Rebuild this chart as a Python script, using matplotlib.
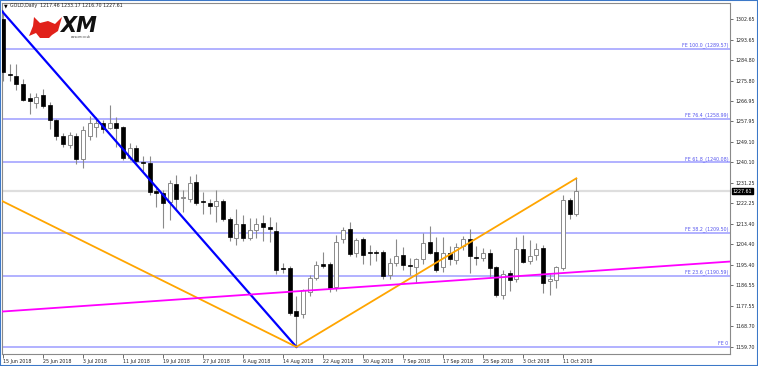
import matplotlib
matplotlib.use("Agg")
import matplotlib.pyplot as plt
import matplotlib.transforms as mtransforms
from matplotlib.patches import Polygon, Rectangle
import numpy as np
import pandas as pd

# GOLD daily candles, 15 Jun 2018 .. 15 Oct 2018
dates = pd.bdate_range("2018-06-15", "2018-10-15")
opens = [1302.5, 1278.5, 1277.8, 1274.3, 1268.0, 1265.9, 1269.5, 1265.0, 1258.6, 1251.6,
         1247.7, 1251.6, 1241.5, 1251.8, 1255.7, 1257.2, 1255.0, 1257.2, 1255.4, 1242.0,
         1246.6, 1240.4, 1240.0, 1227.8, 1226.9, 1223.0, 1230.7, 1224.5, 1224.1, 1231.5,
         1223.5, 1222.6, 1221.1, 1223.4, 1215.3, 1207.0, 1213.3, 1207.3, 1210.6, 1213.6,
         1212.0, 1210.4, 1194.0, 1193.9, 1175.4, 1174.0, 1183.5, 1189.9, 1195.7, 1195.7,
         1186.0, 1206.6, 1210.9, 1200.5, 1206.6, 1201.0, 1200.8, 1201.2, 1191.0, 1196.1,
         1199.8, 1195.4, 1194.7, 1197.9, 1205.6, 1201.2, 1194.7, 1200.8, 1197.6, 1203.7,
         1206.6, 1198.8, 1198.3, 1200.5, 1194.4, 1182.3, 1192.0, 1189.5, 1202.3, 1197.0,
         1199.8, 1202.7, 1188.6, 1189.0, 1194.0, 1223.7, 1217.46]
highs = [1306.5, 1283.0, 1283.0, 1276.3, 1270.3, 1270.3, 1272.0, 1266.6, 1259.0, 1253.0,
         1253.5, 1253.0, 1256.2, 1260.4, 1260.0, 1258.5, 1265.3, 1259.8, 1256.0, 1248.5,
         1247.5, 1243.0, 1243.0, 1229.0, 1228.0, 1232.5, 1234.6, 1228.0, 1234.0, 1235.0,
         1227.0, 1224.0, 1228.0, 1224.0, 1216.5, 1219.7, 1217.0, 1216.0, 1216.0, 1217.0,
         1216.5, 1214.0, 1196.1, 1195.0, 1182.0, 1185.0, 1191.0, 1197.0, 1201.2, 1196.5,
         1208.5, 1212.0, 1214.3, 1207.0, 1207.5, 1204.0, 1202.0, 1202.0, 1198.3, 1206.6,
         1203.4, 1198.3, 1198.5, 1209.2, 1212.4, 1207.8, 1207.8, 1203.5, 1205.0, 1208.0,
         1211.0, 1203.7, 1203.0, 1202.3, 1195.0, 1193.3, 1193.0, 1207.8, 1208.3, 1206.2,
         1205.2, 1204.0, 1191.5, 1195.0, 1226.0, 1224.5, 1233.17]
lows = [1275.5, 1275.5, 1271.7, 1267.0, 1261.2, 1264.0, 1264.0, 1254.6, 1250.0, 1247.0,
        1246.5, 1239.4, 1237.5, 1250.0, 1251.0, 1253.0, 1254.5, 1247.0, 1241.0, 1241.0,
        1239.0, 1236.5, 1226.0, 1220.8, 1211.4, 1215.0, 1219.4, 1218.6, 1223.0, 1221.5,
        1217.6, 1217.5, 1214.0, 1214.5, 1206.0, 1204.1, 1206.0, 1206.5, 1207.0, 1206.0,
        1205.6, 1191.5, 1191.8, 1173.5, 1159.7, 1172.2, 1182.0, 1189.0, 1194.0, 1183.8,
        1184.0, 1205.0, 1199.5, 1199.0, 1196.0, 1195.4, 1197.0, 1189.2, 1189.5, 1195.0,
        1193.2, 1191.0, 1187.7, 1196.0, 1200.0, 1192.5, 1192.5, 1195.5, 1196.0, 1202.0,
        1192.0, 1195.4, 1197.0, 1190.0, 1181.6, 1180.5, 1184.2, 1188.0, 1196.4, 1195.8,
        1197.6, 1183.0, 1182.5, 1185.3, 1193.0, 1215.3, 1216.70]
closes = [1279.5, 1278.0, 1274.3, 1267.3, 1267.0, 1268.8, 1264.7, 1258.6, 1251.6, 1248.0,
          1252.1, 1241.5, 1254.3, 1257.2, 1257.2, 1254.6, 1257.2, 1255.0, 1241.9, 1246.6,
          1240.8, 1240.0, 1227.4, 1226.9, 1222.6, 1231.3, 1224.2, 1225.0, 1231.3, 1222.3,
          1222.7, 1221.3, 1223.4, 1215.3, 1207.5, 1213.3, 1207.0, 1210.6, 1213.3, 1211.9,
          1211.2, 1193.2, 1193.5, 1174.3, 1173.3, 1184.5, 1189.9, 1195.4, 1195.0, 1185.2,
          1205.6, 1210.6, 1200.2, 1206.5, 1199.8, 1200.6, 1200.6, 1190.6, 1196.1, 1199.3,
          1195.4, 1195.0, 1197.9, 1205.1, 1200.8, 1193.2, 1200.5, 1197.9, 1203.4, 1206.6,
          1199.3, 1198.4, 1200.5, 1193.9, 1182.3, 1191.5, 1188.7, 1202.3, 1196.8, 1199.4,
          1202.5, 1187.4, 1189.2, 1194.4, 1223.7, 1217.6, 1227.61]

# Fibonacci expansion levels
fe_levels = [1289.57, 1258.99, 1240.08, 1209.50, 1190.59, 1159.70]
fe_labels = ["FE 100.0_(1289.57)", "FE 76.4_(1258.99)", "FE 61.8_(1240.08)",
             "FE 38.2_(1209.50)", "FE 23.6_(1190.59)", "FE 0"]

# trend lines (bar index, price)
blue_x, blue_y = [-0.15, 44], [1306.0, 1159.7]
orange_x, orange_y = [-0.15, 44, 86], [1223.3, 1159.7, 1233.17]
magenta_x, magenta_y = [-0.15, 109.05], [1175.1, 1196.9]

price_ticks = [1302.65, 1293.65, 1284.80, 1275.80, 1266.95, 1257.95, 1249.10, 1240.10,
               1231.25, 1222.25, 1213.40, 1204.40, 1195.40, 1186.55, 1177.55, 1168.70, 1159.70]
last_price = 1227.61
header = "GOLD,Daily  1217.46 1233.17 1216.70 1227.61"

W, H = 758, 366
fig = plt.figure(figsize=(W / 100, H / 100), dpi=100)
ax = fig.add_axes([2 / W, 12 / H, 728 / W, 351 / H])

o = np.array(opens); h = np.array(highs); l = np.array(lows); c = np.array(closes)
x = np.arange(len(o))
up = c >= o
bot = np.minimum(o, c)
ht = np.maximum(np.abs(c - o), 0.35)

# bid line
ax.axhline(last_price, color="#dedede", lw=1.6, zorder=1)

for lv in fe_levels:
    ax.axhline(lv, color="#9d9dff", lw=1.1, zorder=2)
tr = mtransforms.blended_transform_factory(ax.transAxes, ax.transData)
for lv, lab in zip(fe_levels, fe_labels):
    ax.text(0.998, lv + 0.3, lab, transform=tr, ha="right", va="bottom",
            fontsize=3.4, color="#5555ee", zorder=6)

ax.vlines(x, l, h, color="#8a8a8a", lw=0.8, zorder=3)
ax.bar(x[up], ht[up], bottom=bot[up], width=0.6, color="white",
       edgecolor="#8a8a8a", lw=0.7, zorder=4)
ax.bar(x[~up], ht[~up], bottom=bot[~up], width=0.6, color="black",
       edgecolor="black", lw=0.5, zorder=4)

ax.plot(blue_x, blue_y, color="#0000ff", lw=1.6, zorder=5)
ax.plot(orange_x, orange_y, color="#ffa500", lw=1.3, zorder=5)
ax.plot(magenta_x, magenta_y, color="#ff00ff", lw=1.3, zorder=5)

ax.set_xlim(-0.15, 109.05)
ax.set_ylim(1156.6, 1309.6)

ax.yaxis.tick_right()
ax.set_yticks(price_ticks)
ax.set_yticklabels([f"{v:.2f}" for v in price_ticks])
xt = list(range(0, 85, 6))
ax.set_xticks(xt)
ax.set_xticklabels([f"{dates[i].day} {dates[i].strftime('%b %Y')}" for i in xt])
for lbl in ax.get_xticklabels():
    lbl.set_horizontalalignment("left")
ax.tick_params(axis="x", length=3, width=0.6, color="#555555", labelsize=3.4, pad=0.8,
               labelcolor="#222222")
ax.tick_params(axis="y", length=2.5, width=0.6, color="#555555", labelsize=3.4, pad=1.5,
               labelcolor="#222222")
for s in ax.spines.values():
    s.set_color("#8a8a8a")
    s.set_linewidth(0.8)

ax.text(1.004, last_price, f"{last_price:.2f}", transform=tr, ha="left", va="center",
        fontsize=3.4, color="white",
        bbox=dict(facecolor="black", edgecolor="black", pad=0.6), zorder=7)

# header
fig.text(3.5 / W, 1 - 6 / H, "\u25bc", fontsize=3.4, va="center", ha="left")
fig.text(10 / W, 1 - 6 / H, header, fontsize=3.4, va="center", ha="left", color="#222222")

# XM logo
pts = [(34, 17), (40, 23), (48, 21), (55, 24), (62, 17), (58, 31), (52, 35), (49, 38),
       (40, 38), (36, 33), (29, 36), (33, 26)]
fig.patches.append(Polygon([(px / W, 1 - py / H) for px, py in pts], closed=True,
                           facecolor="#e1211a", edgecolor="none", transform=fig.transFigure))
fig.text(60 / W, 1 - 25.5 / H, "XM", fontsize=15, fontweight="heavy", style="italic",
         va="center", ha="left", color="#111111")
fig.text(71 / W, 1 - 36.5 / H, "www.xm.co.uk", fontsize=2, va="center", ha="left",
         color="#333333")

fig.patches.append(Rectangle((0, 0), 1, 1, fill=False, edgecolor="#3c78c8", lw=1.5,
                             transform=fig.transFigure))

fig.savefig("out.png", dpi=100)
